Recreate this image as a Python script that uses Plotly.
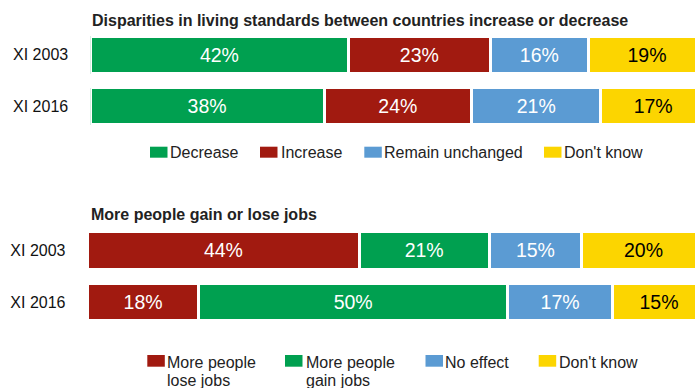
import plotly.graph_objects as go

W, H = 695, 388

years = ["XI 2003", "XI 2016"]

title_top = "Disparities in living standards between countries increase or decrease"
top_labels = ["Decrease", "Increase", "Remain unchanged", "Don't know"]
top_decrease = [42, 38]
top_increase = [23, 24]
top_unchanged = [16, 21]
top_dontknow = [19, 17]

title_bottom = "More people gain or lose jobs"
bottom_labels = ["More people<br>lose jobs", "More people<br>gain jobs", "No effect", "Don't know"]
bottom_lose = [44, 18]
bottom_gain = [21, 50]
bottom_noeffect = [15, 17]
bottom_dontknow = [20, 15]

GREEN = "#00A050"
RED = "#A11A10"
BLUE = "#5B9BD3"
YELLOW = "#FCD500"

top_series = [top_decrease, top_increase, top_unchanged, top_dontknow]
top_colors = [GREEN, RED, BLUE, YELLOW]
bottom_series = [bottom_lose, bottom_gain, bottom_noeffect, bottom_dontknow]
bottom_colors = [RED, GREEN, BLUE, YELLOW]
text_colors = {GREEN: "white", RED: "white", BLUE: "white", YELLOW: "black"}

FONT = "Liberation Sans, Arial, sans-serif"

fig = go.Figure()


def add_bars(series, labels, colors, xa, ya):
    for vals, lab, col in zip(series, labels, colors):
        fig.add_trace(go.Bar(
            y=years, x=vals, orientation="h", name=lab.replace("<br>", " "),
            marker=dict(color=col, line=dict(color="white", width=3)),
            texttemplate="%{x}%", textposition="inside", insidetextanchor="middle",
            textfont=dict(color=text_colors[col], size=19.5, family=FONT),
            textangle=0, showlegend=False, xaxis=xa, yaxis=ya,
            hoverinfo="skip",
        ))


add_bars(top_series, top_labels, top_colors, "x", "y")
add_bars(bottom_series, bottom_labels, bottom_colors, "x2", "y2")


def px_x(p):
    return p / W


def px_y(p):
    return 1 - p / H


axis_common = dict(showgrid=False, zeroline=False, showline=False, showticklabels=False, fixedrange=True)
yaxis_common = dict(showgrid=False, zeroline=False, showline=False, autorange="reversed",
                    type="category", categoryorder="array", categoryarray=years,
                    tickfont=dict(size=16, color="#111111", family=FONT),
                    ticks="", ticklabelstandoff=21)

fig.update_layout(
    width=W, height=H,
    margin=dict(l=0, r=0, t=0, b=0),
    paper_bgcolor="white", plot_bgcolor="white",
    barmode="stack", bargap=0.273,
    font=dict(family=FONT),
    xaxis=dict(domain=[px_x(90.2), 1], range=[0, (W - 90.2) / 615.3 * 100], anchor="y", **axis_common),
    yaxis=dict(domain=[px_y(131.8), px_y(29.2)], anchor="x", **yaxis_common),
    xaxis2=dict(domain=[px_x(87.5), 1], range=[0, (W - 87.5) / 617.8 * 100], anchor="y2", **axis_common),
    yaxis2=dict(domain=[px_y(328.0), px_y(224.6)], anchor="x2", **yaxis_common),
)

annotations = [
    dict(text="<b>" + title_top + "</b>", x=px_x(90), y=px_y(20), xref="paper", yref="paper",
         xanchor="left", yanchor="middle", showarrow=False,
         font=dict(size=16, color="#222222", family=FONT)),
    dict(text="<b>" + title_bottom + "</b>", x=px_x(88.7), y=px_y(214.5), xref="paper", yref="paper",
         xanchor="left", yanchor="middle", showarrow=False,
         font=dict(size=16, color="#222222", family=FONT)),
]
shapes = []

# legend 1
leg1_sq = [150, 260, 364.3, 544]
leg1_tx = [170, 281, 384, 564.3]
for lab, col, sx, tx in zip(top_labels, top_colors, leg1_sq, leg1_tx):
    shapes.append(dict(type="rect", xref="paper", yref="paper", x0=px_x(sx), x1=px_x(sx + 17.5),
                       y0=px_y(157.7), y1=px_y(146.7), fillcolor=col, line=dict(width=0)))
    annotations.append(dict(text=lab, x=px_x(tx - 2), y=px_y(153), xref="paper", yref="paper",
                            xanchor="left", yanchor="middle", showarrow=False, align="left",
                            font=dict(size=16, color="#222222", family=FONT)))

# legend 2
leg2_sq = [147.3, 285, 425.5, 538.7]
leg2_tx = [167.3, 305.7, 445, 559]
line_centers = [362, 380]
for lab, col, sx, tx in zip(bottom_labels, bottom_colors, leg2_sq, leg2_tx):
    shapes.append(dict(type="rect", xref="paper", yref="paper", x0=px_x(sx), x1=px_x(sx + 17.5),
                       y0=px_y(366.7), y1=px_y(355), fillcolor=col, line=dict(width=0)))
    for part, cy in zip(lab.split("<br>"), line_centers):
        annotations.append(dict(text=part, x=px_x(tx - 2), y=px_y(cy), xref="paper", yref="paper",
                                xanchor="left", yanchor="middle", showarrow=False, align="left",
                                font=dict(size=16, color="#222222", family=FONT)))

fig.update_layout(annotations=annotations, shapes=shapes)

fig.write_html("out.html")
